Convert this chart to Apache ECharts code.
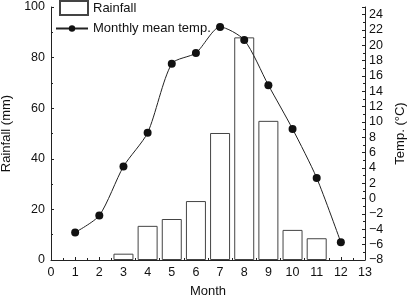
<!DOCTYPE html>
<html>
<head>
<meta charset="utf-8">
<script src="https://cdn.jsdelivr.net/npm/echarts@6/dist/echarts.min.js"></script>
<style>
  html, body { margin: 0; padding: 0; background: #fff; }
  #chart { width: 410px; height: 299px; }
</style>
</head>
<body>
<div id="chart"></div>
<script>
// monthly data
const rainMonths = [3, 4, 5, 6, 7, 8, 9, 10, 11]
const rainfall = [2.5, 13.5, 16.2, 23.3, 50.2, 88, 55, 11.9, 8.6]
const tempMonths = [1, 2, 3, 4, 5, 6, 7, 8, 9, 10, 11, 12]
const meanTemp = [-4.4, -2.2, 4.2, 8.6, 17.6, 19.0, 22.4, 20.7, 14.8, 9.1, 2.7, -5.7]

const chart = echarts.init(document.getElementById('chart'))

const font = 'Liberation Sans, Arial, sans-serif'
const axisLine = { show: true, lineStyle: { color: '#222', width: 1 } }
const legendText = { color: '#111', fontSize: 13, fontFamily: font }

const option = {
  animation: false,
  textStyle: { fontFamily: font },
  grid: { left: 51, right: 45, top: 7, bottom: 39, outerBoundsMode: 'none', containLabel: false },
  legend: [
    {
      orient: 'vertical',
      left: 59,
      top: 0,
      padding: 0,
      itemWidth: 28,
      itemHeight: 14,
      textStyle: legendText,
      data: [{ name: 'Rainfall', icon: 'rect' }]
    },
    {
      orient: 'vertical',
      left: 55,
      top: 22,
      padding: 0,
      itemWidth: 32,
      itemHeight: 8,
      textStyle: legendText,
      data: [{ name: 'Monthly mean temp.' }]
    }
  ],
  xAxis: {
    type: 'value',
    min: 0,
    max: 13,
    interval: 1,
    name: 'Month',
    nameLocation: 'middle',
    nameGap: 25,
    nameTextStyle: { fontSize: 13, color: '#111' },
    axisLine: axisLine,
    axisTick: { inside: true, length: 3, lineStyle: { color: '#222' } },
    minorTick: { show: true, splitNumber: 2, length: 2, lineStyle: { color: '#222' } },
    axisLabel: { color: '#111', fontSize: 12.5, margin: 6 },
    splitLine: { show: false }
  },
  yAxis: [
    {
      type: 'value',
      min: 0,
      max: 100,
      interval: 20,
      name: 'Rainfall (mm)',
      nameLocation: 'middle',
      nameRotate: 90,
      nameGap: 32,
      nameTextStyle: { fontSize: 13, color: '#111' },
      axisLine: axisLine,
      axisTick: { inside: true, length: 3, lineStyle: { color: '#222' } },
      minorTick: { show: true, splitNumber: 2, length: 2, lineStyle: { color: '#222' } },
      axisLabel: { color: '#111', fontSize: 12.5, margin: 6 },
      splitLine: { show: false }
    },
    {
      type: 'value',
      min: -8,
      max: 25,
      interval: 2,
      position: 'right',
      name: 'Temp. (°C)',
      nameLocation: 'middle',
      nameRotate: 90,
      nameGap: 28,
      nameTextStyle: { fontSize: 13, color: '#111' },
      axisLine: axisLine,
      axisTick: { inside: true, length: 3, lineStyle: { color: '#222' } },
      minorTick: { show: true, splitNumber: 2, length: 2, lineStyle: { color: '#222' } },
      axisLabel: {
        color: '#111', fontSize: 12.5, margin: 4, showMaxLabel: false,
        formatter: v => (v < 0 ? '\u2212' + (-v) : '' + v)
      },
      splitLine: { show: false }
    }
  ],
  series: [
    {
      name: 'Rainfall',
      type: 'bar',
      yAxisIndex: 0,
      barWidth: 20,
      itemStyle: { color: '#fff', borderColor: '#444', borderWidth: 1 },
      data: rainMonths.map((m, i) => [m, rainfall[i]])
    },
    {
      name: 'Monthly mean temp.',
      type: 'line',
      yAxisIndex: 1,
      smooth: 0.25,
      symbol: 'circle',
      symbolSize: 8,
      itemStyle: { color: '#111' },
      lineStyle: { color: '#222', width: 1 },
      data: tempMonths.map((m, i) => [m, meanTemp[i]])
    }
  ]
}

chart.setOption(option)
</script>
</body>
</html>
